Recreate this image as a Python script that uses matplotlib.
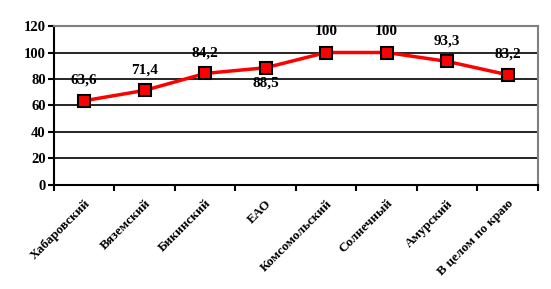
import matplotlib.pyplot as plt
import numpy as np

categories = ['Хабаровский', 'Вяземский', 'Бикинский', 'ЕАО', 'Комсомольский',
              'Солнечный', 'Амурский', 'В целом по краю']
values = [63.6, 71.4, 84.2, 88.5, 100, 100, 93.3, 83.2]
labels = ['63,6', '71,4', '84,2', '88,5', '100', '100', '93,3', '83,2']
label_below = [False, False, False, True, False, False, False, False]

plt.rcParams['font.family'] = ['Liberation Serif', 'DejaVu Serif']
plt.rcParams['font.weight'] = 'bold'

fig = plt.figure(figsize=(5.51, 2.89), dpi=100)
ax = fig.add_axes([0.098, 0.36, 0.878, 0.55])

x = np.arange(len(categories))
ax.plot(x, values, color='#ff0000', lw=2.5, marker='s', ms=9,
        mfc='#ff0000', mec='black', mew=1.5, zorder=3, clip_on=False)

for xi, v, lab, below in zip(x, values, labels, label_below):
    off = -11 if below else 15
    ax.annotate(lab, (xi, v), xytext=(0, off), textcoords='offset points',
                ha='center', va='center', fontsize=11, fontweight='bold')

ax.set_xlim(-0.5, len(categories) - 0.5)
ax.set_ylim(0, 120)
ax.set_yticks(np.arange(0, 121, 20))
ax.yaxis.grid(True, color='black', lw=1.2)
ax.set_axisbelow(True)

ax.set_xticks(np.arange(-0.5, len(categories), 1.0))
ax.set_xticklabels([])
ax.set_xticks(x, minor=True)
ax.set_xticklabels(categories, minor=True, rotation=45, ha='right',
                   rotation_mode='anchor', fontsize=9.5)
ax.tick_params(axis='x', which='minor', length=0, pad=9)
ax.tick_params(axis='x', which='major', length=4, width=1.5, direction='out')
ax.tick_params(axis='y', length=4, width=1.5, direction='out', labelsize=10.5, pad=2)

for s in ['left', 'bottom']:
    ax.spines[s].set_color('black')
    ax.spines[s].set_linewidth(1.5)
for s in ['top', 'right']:
    ax.spines[s].set_color('#808080')
    ax.spines[s].set_linewidth(1.5)

fig.savefig('out.png', dpi=100)
